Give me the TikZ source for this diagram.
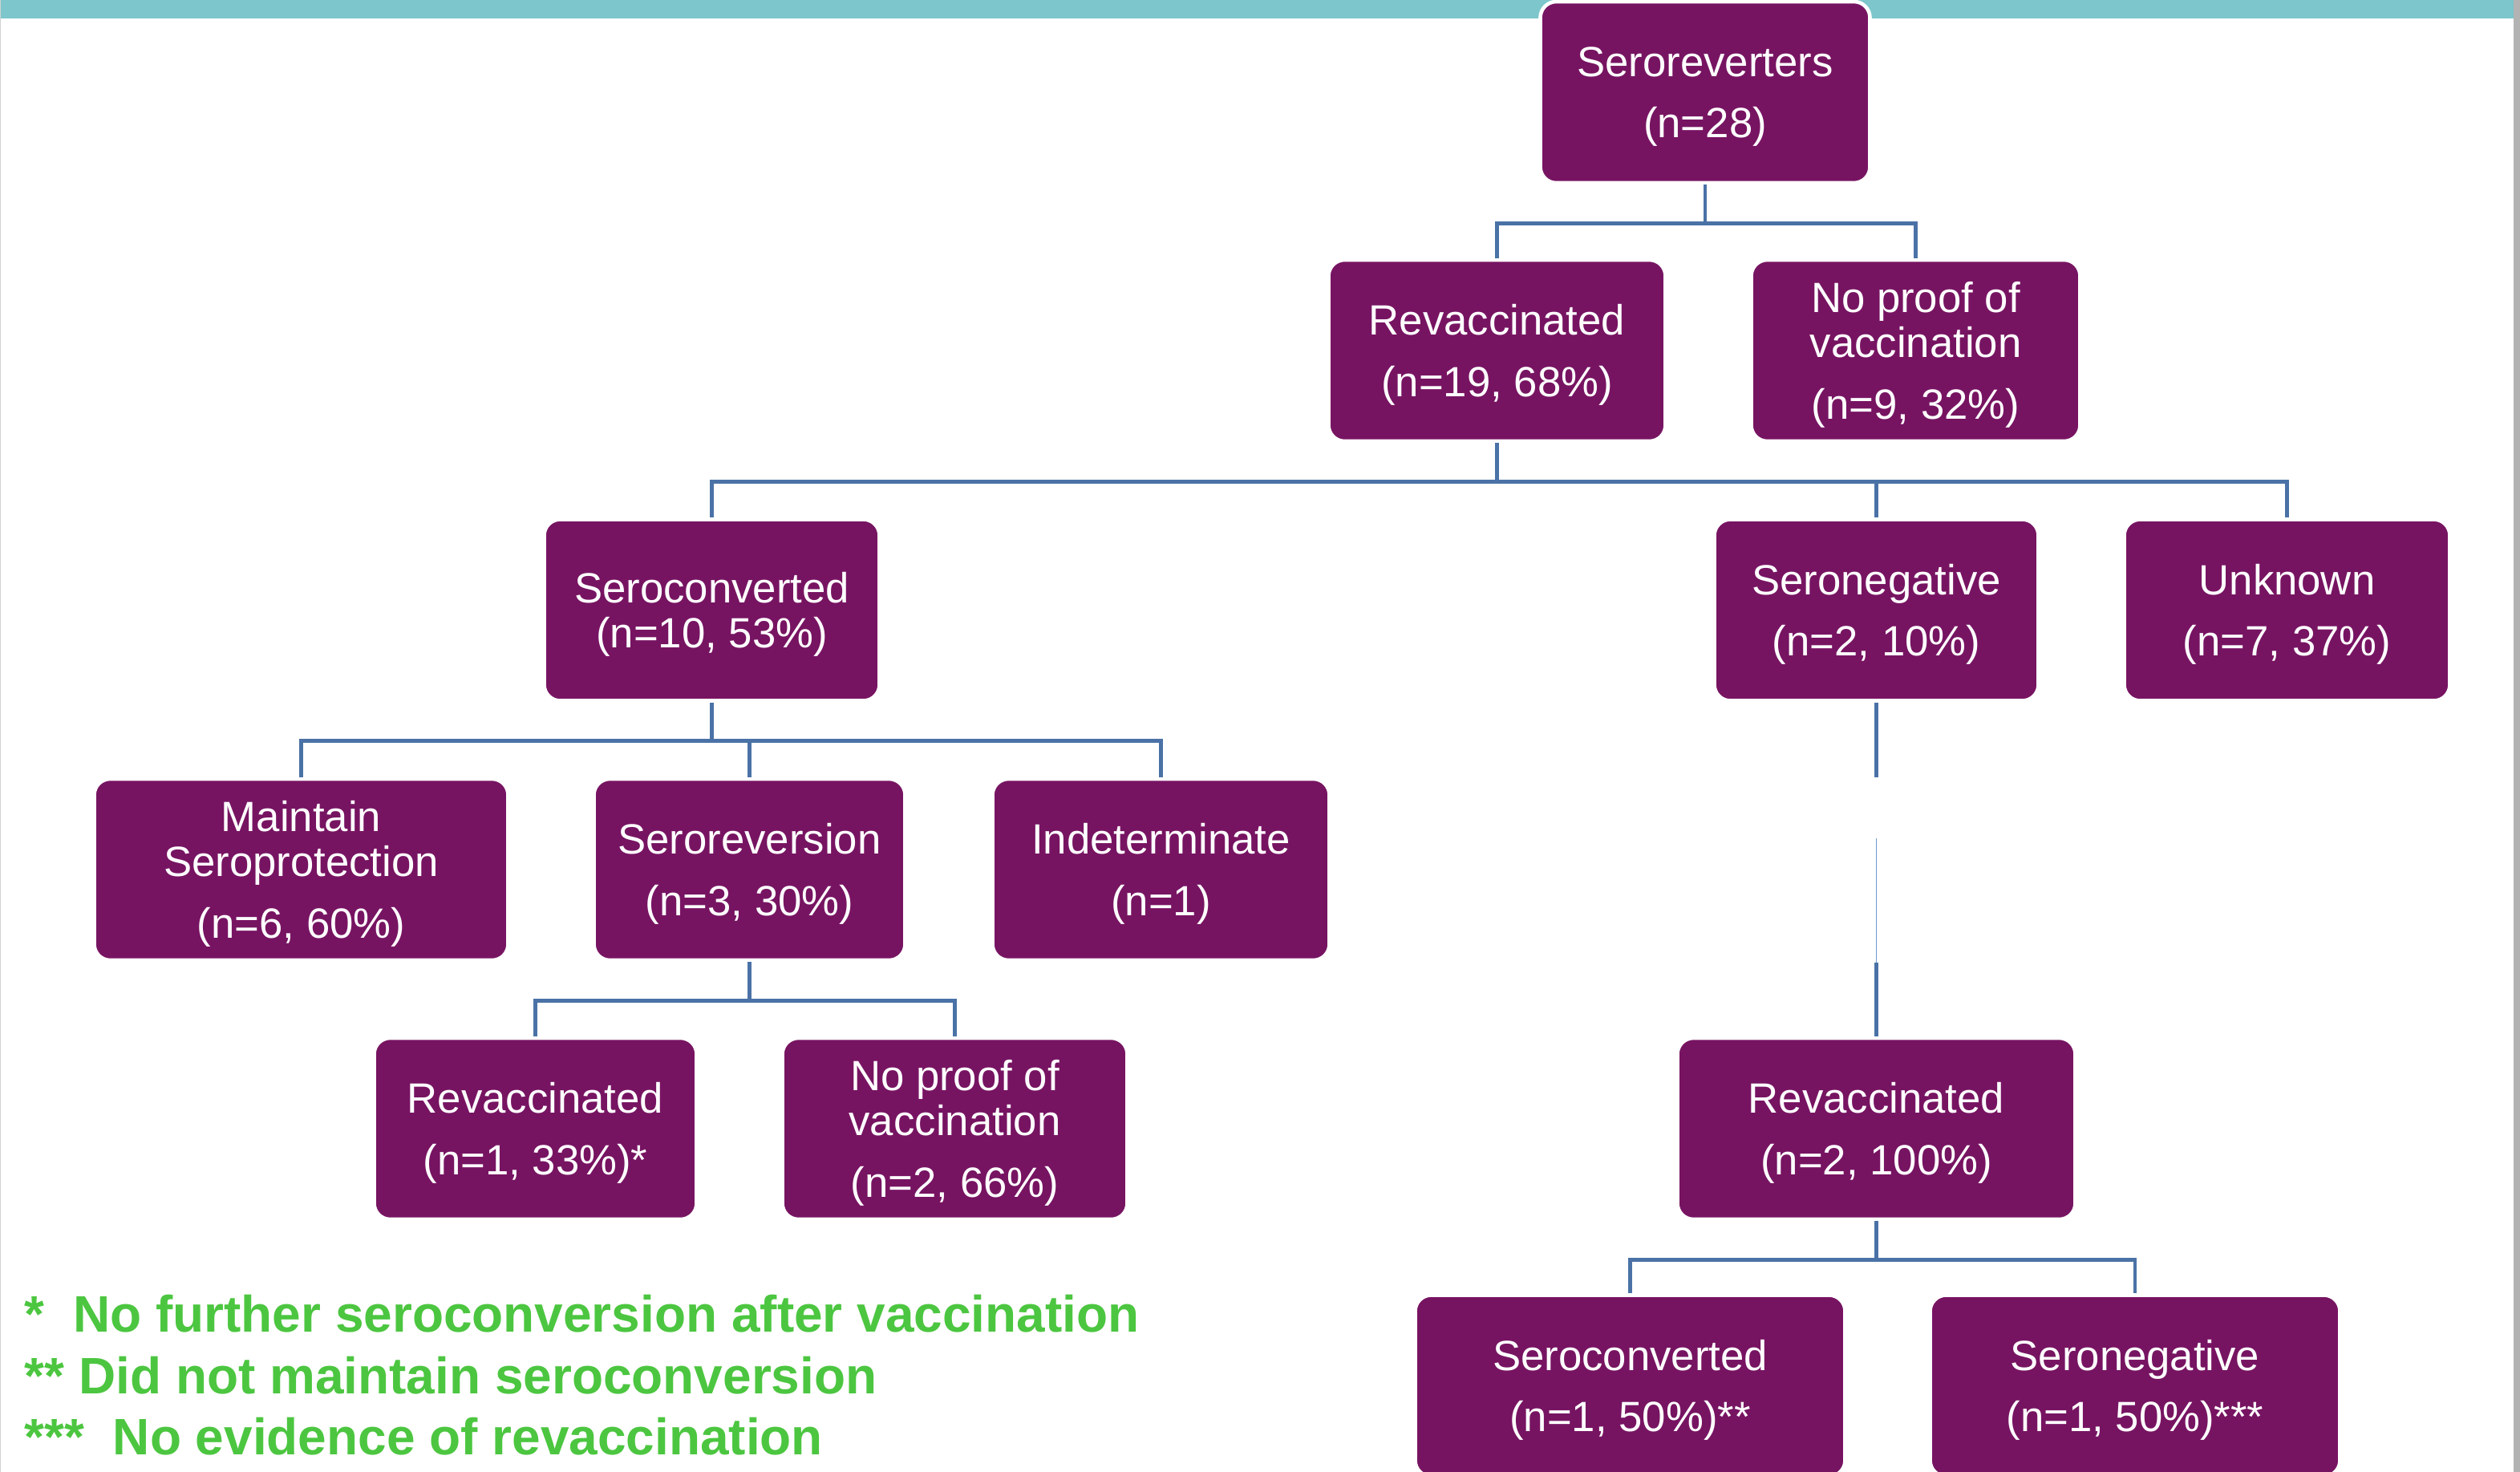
\documentclass[tikz,border=0pt]{standalone}
\usepackage{fontspec}
\setmainfont{Liberation Sans}
\usetikzlibrary{positioning}
\definecolor{plum}{HTML}{771462}
\definecolor{barteal}{HTML}{7CC6CC}
\definecolor{linkblue}{HTML}{4A72A6}
\definecolor{faintblue}{HTML}{6E9AD2}
\definecolor{notegreen}{HTML}{4CC640}
\definecolor{edgegray}{HTML}{B3B3B3}
\tikzset{
  box/.style={fill=plum,draw=white,line width=1.3pt,rounded corners=0.2cm,
    minimum height=2.26cm,inner sep=0pt,text=white,align=center,
    font=\fontsize{15}{15.9}\selectfont,text depth=0pt},
  link/.style={draw=linkblue,line width=1.4pt},
  faint/.style={draw=faintblue,line width=0.4pt},
  note/.style={text=notegreen,font=\fontsize{18.2}{21.8}\selectfont\bfseries,
    anchor=base west,inner sep=0pt}
}

\begin{document}
\begin{tikzpicture}
  \clip (0,0) rectangle (31.42,-18.35);
  \fill[white] (0,0) rectangle (31.42,-18.35);
  \fill[barteal] (0,0) rectangle (31.34,-0.23);
  \fill[edgegray] (31.34,0) rectangle (31.42,-18.35);
  \fill[gray!35] (0,0) rectangle (0.015,-18.35);

  % top of the tree
  \node[box,minimum width=4.11cm] (reverters) at (21.26,-1.15)
    {Seroreverters\\[5.9pt](n=28)};
  \node[box,minimum width=4.2cm] (revacc) at (18.665,-4.37)
    {Revaccinated\\[5.9pt](n=19, 68\%)};
  \node[box,minimum width=4.1cm] (noproof) at (23.885,-4.37)
    {No proof of\\vaccination\\[5.9pt](n=9, 32\%)};

  % after revaccination
  \node[box,minimum width=4.18cm] (seroconv) at (8.875,-7.605)
    {Seroconverted\\(n=10, 53\%)};
  \node[box,minimum width=4.04cm] (seroneg) at (23.395,-7.605)
    {Seronegative\\[5.9pt](n=2, 10\%)};
  \node[box,minimum width=4.06cm] (unknown) at (28.515,-7.605)
    {Unknown\\[5.9pt](n=7, 37\%)};

  \node[box,minimum width=5.16cm] (maintain) at (3.755,-10.84)
    {Maintain\\Seroprotection\\[5.9pt](n=6, 60\%)};
  \node[box,minimum width=3.88cm] (serorev) at (9.345,-10.84)
    {Seroreversion\\[5.9pt](n=3, 30\%)};
  \node[box,minimum width=4.2cm] (indet) at (14.475,-10.84)
    {Indeterminate\\[5.9pt](n=1)};

  \node[box,minimum width=4.02cm] (revaccA) at (6.675,-14.07)
    {Revaccinated\\[5.9pt](n=1, 33\%)*};
  \node[box,minimum width=4.3cm] (noproofA) at (11.905,-14.07)
    {No proof of\\vaccination\\[5.9pt](n=2, 66\%)};
  \node[box,minimum width=4.96cm] (revaccB) at (23.395,-14.07)
    {Revaccinated\\[5.9pt](n=2, 100\%)};

  \node[box,minimum width=5.36cm] (seroconvB) at (20.325,-17.275)
    {Seroconverted\\[5.9pt](n=1, 50\%)**};
  \node[box,minimum width=5.11cm] (seronegB) at (26.62,-17.275)
    {Seronegative\\[5.9pt](n=1, 50\%)***};

  % connectors
  \foreach \kid in {revacc,noproof}
    \draw[link] (reverters.south) -- ++(0,-0.48) -| (\kid.north);
  \foreach \kid in {seroconv,seroneg,unknown}
    \draw[link] (revacc.south) -- ++(0,-0.48) -| (\kid.north);
  \foreach \kid in {maintain,serorev,indet}
    \draw[link] (seroconv.south) -- ++(0,-0.48) -| (\kid.north);
  \foreach \kid in {revaccA,noproofA}
    \draw[link] (serorev.south) -- ++(0,-0.48) -| (\kid.north);
  \foreach \kid in {seroconvB,seronegB}
    \draw[link] (revaccB.south) -- ++(0,-0.48) -| (\kid.north);

  \coordinate[below=0.93cm of seroneg] (gapA);
  \coordinate[below=1.69cm of seroneg] (gapB);
  \coordinate[below=3.24cm of seroneg] (gapC);
  \draw[link] (seroneg) -- (gapA);
  \draw[faint] (gapB) -- (gapC);
  \draw[link] (gapC) -- (revaccB);

  % footnotes
  \node[note] (noteA) at (0.30,-16.60) {*\ \ No further seroconversion after vaccination};
  \node[note] (noteB) at (0.30,-17.37) {** Did not maintain seroconversion};
  \node[note] (noteC) at (0.30,-18.13) {***\ \ No evidence of revaccination};
\end{tikzpicture}
\end{document}
